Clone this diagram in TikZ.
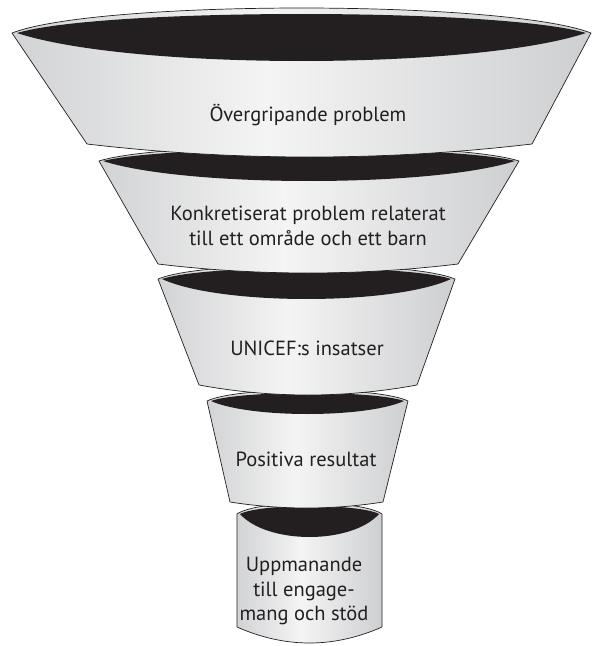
\documentclass[tikz,border=0pt]{standalone}
\usepackage{fontspec}
\setmainfont{PT Sans}
\definecolor{ink}{HTML}{231F20}
\definecolor{gA}{HTML}{A4A6A9}
\definecolor{gB}{HTML}{D2D3D5}
\definecolor{gC}{HTML}{F4F4F4}
\pgfdeclarehorizontalshading{funnelshade}{100bp}{color(0bp)=(gA); color(25bp)=(gB); color(47bp)=(gC); color(72bp)=(gB); color(100bp)=(gA)}
\tikzset{
  segbody/.style={shading=funnelshade, draw=ink, line width=0.7pt, line join=round},
  lbl/.style={text=ink, font=\fontsize{20.5}{24.5}\selectfont, align=center, inner sep=0pt}
}
% body: #1 Lx #2 Rx #3 tipY #4 topY #5 (unused) #6 BLx #7 BRx #8 cornerY #9 bottomY
\newcommand\segbodypath[9]{%
  \pgfmathsetmacro\sW{#2-#1}%
  \pgfmathsetmacro\sC{1.333*(#3-#4)}%
  \pgfmathsetmacro\sB{1.333*(#9-#8)}%
  \pgfmathsetmacro\sBW{(#7-#6)/3}%
  \path[segbody] (#1,#3) .. controls ({#1+0.15*\sW},{#3-\sC}) and ({#2-0.15*\sW},{#3-\sC}) .. (#2,#3)
     -- (#7,#8) .. controls ({#7-\sBW},{#8+\sB}) and ({#6+\sBW},{#8+\sB}) .. (#6,#8) -- cycle;
}
% lens: #1 Lx #2 Rx #3 tipY #4 top #5 bottom #6 inset
\newcommand\seglens[6]{%
  \pgfmathsetmacro\lA{#1+#6}\pgfmathsetmacro\lB{#2-#6}%
  \pgfmathsetmacro\lW{\lB-\lA}%
  \pgfmathsetmacro\lT{1.333*(#3-#4)}\pgfmathsetmacro\lD{1.333*(#5-#3)}%
  \fill[ink] (\lA,#3) .. controls ({\lA+0.15*\lW},{#3-\lT}) and ({\lB-0.15*\lW},{#3-\lT}) .. (\lB,#3)
     .. controls ({\lB-0.2*\lW},{#3+\lD}) and ({\lA+0.2*\lW},{#3+\lD}) .. cycle;
}
\begin{document}
\begin{tikzpicture}[x=1pt,y=-1pt]
\useasboundingbox (0,0) rectangle (594,646);
% segment 5 (cylinder)
\segbodypath{237}{382}{514}{503}{0}{237}{382}{627}{643}
\seglens{237}{382}{514}{506}{537}{3}
% segment 4
\segbodypath{207}{408}{401}{390}{0}{230}{383}{502}{508}
\seglens{207}{408}{401}{393}{414}{4}
% segment 3
\segbodypath{158}{455}{279}{265}{0}{199}{417}{385}{395}
\seglens{158}{455}{279}{268}{299}{4}
% segment 2
\segbodypath{99}{519}{161}{146}{0}{158}{458}{264}{273}
\seglens{99}{519}{161}{149}{181}{4}
% segment 1
\segbodypath{12}{591}{33}{8}{0}{87}{532}{144}{157}
\seglens{12}{591}{33}{14}{61}{5}
% labels
\node[lbl] (t1) at (308,115) {Övergripande problem};
\node[lbl] (t2) at (308,226) {Konkretiserat problem relaterat\\till ett område och ett barn};
\node[lbl] (t3) at (307,348) {UNICEF:s insatser};
\node[lbl] (t4) at (306,459) {Positiva resultat};
\node[lbl] (t5) at (304,591) {Uppmanande\\till engage-\\mang och stöd};
\end{tikzpicture}
\end{document}
